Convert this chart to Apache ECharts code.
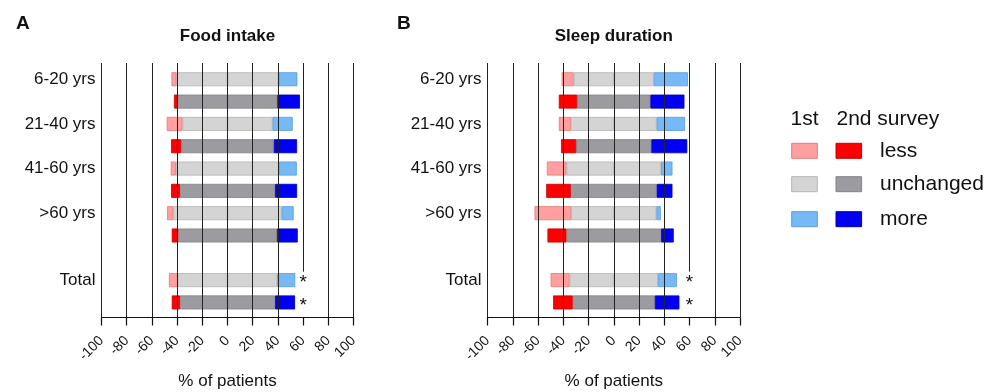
<!DOCTYPE html>
<html>
<head>
<meta charset="utf-8">
<script src="https://cdn.jsdelivr.net/npm/echarts@6/dist/echarts.min.js"></script>
<style>
html,body{margin:0;padding:0;background:#fff;}
#chart{width:997px;height:392px;}
</style>
</head>
<body>
<div id="chart"></div>
<script>
// ---- data (percent of patients) ----
const groups = ['6-20 yrs', '21-40 yrs', '41-60 yrs', '>60 yrs', 'Total'];

const foodLess1 = [4, 12.5, 4, 5, 7];
const foodUnch1 = [81, 71.5, 82, 86, 79];
const foodMore1 = [15, 16, 14, 9.5, 14.5];
const foodLess2 = [3, 8, 7, 5, 6.5];
const foodUnch2 = [79, 73.5, 75.5, 78.5, 75.5];
const foodMore2 = [18, 18.5, 17.5, 16.5, 16];
const foodSig = ['', '', '', '', '*'];

const sleepLess1 = [9.5, 9.5, 15.5, 29, 15];
const sleepUnch1 = [63.5, 68, 75, 67.5, 70];
const sleepMore1 = [27, 22.5, 9, 3.5, 15];
const sleepLess2 = [14.5, 12, 19.5, 15, 15.5];
const sleepUnch2 = [58, 59.5, 68, 75, 65];
const sleepMore2 = [27, 28.5, 12.5, 10, 19.5];
const sleepSig = ['', '', '', '', '*'];

const legendLabels = ['less', 'unchanged', 'more'];
const legendHeader = ['1st', '2nd survey'];

// ---- styles ----
const FONT = "'Liberation Sans', Arial, Helvetica, sans-serif";
const TXT = '#111';
const COL = {
  less:  {c1: '#FF9F9F', b1: '#E07C7C', c2: '#FF0000', b2: '#C40000'},
  unch:  {c1: '#D4D4D4', b1: '#B4B4B4', c2: '#9C9B9F', b2: '#838287'},
  more:  {c1: '#75B9F7', b1: '#5A9BD9', c2: '#0000F5', b2: '#0000B4'}
};

// slots: 1st / 2nd survey per group, gap before Total
const slots = [];
groups.forEach(g => { if (g === 'Total') slots.push('gap'); slots.push(g + '|1', g + '|2'); });

function slotData(a1, a2, fn, col) {
  return slots.map(s => {
    if (s === 'gap') return '-';
    const [g, k] = s.split('|');
    const i = groups.indexOf(g);
    const first = k === '1';
    return {
      value: fn(first ? a1[i] : a2[i]),
      itemStyle: {color: first ? col.c1 : col.c2, borderColor: first ? col.b1 : col.b2}
    };
  });
}

const panels = [
  {letter: 'A', title: 'Food intake', left: 101.5, width: 252,
   less1: foodLess1, unch1: foodUnch1, more1: foodMore1,
   less2: foodLess2, unch2: foodUnch2, more2: foodMore2, sig: foodSig},
  {letter: 'B', title: 'Sleep duration', left: 487.5, width: 252.5,
   less1: sleepLess1, unch1: sleepUnch1, more1: sleepMore1,
   less2: sleepLess2, unch2: sleepUnch2, more2: sleepMore2, sig: sleepSig}
];

const grid = [], xAxis = [], yAxis = [], series = [], title = [];
const letterX = [16, 397];

panels.forEach((p, pi) => {
  const gFrame = pi * 2, gBars = pi * 2 + 1;
  grid.push({left: p.left, width: p.width, top: 63, height: 254.5, outerBoundsMode: 'none', containLabel: false});
  grid.push({left: p.left, width: p.width, top: 68.1, height: 245.5, outerBoundsMode: 'none', containLabel: false});

  xAxis.push({
    gridIndex: gFrame, type: 'value', min: -100, max: 100, interval: 20, z: 3,
    axisLine: {show: true, onZero: false, lineStyle: {color: TXT, width: 1.2}},
    axisTick: {show: true, length: 8, lineStyle: {color: TXT, width: 1.2}},
    axisLabel: {rotate: 45, fontSize: 14, color: TXT, margin: 21, fontFamily: FONT},
    splitLine: {show: true, lineStyle: {color: '#222', width: 1}},
    name: '% of patients', nameLocation: 'middle', nameGap: 55,
    nameTextStyle: {fontSize: 17, color: TXT, fontFamily: FONT}
  });
  yAxis.push({gridIndex: gFrame, type: 'value', min: 0, max: 1, show: false});

  xAxis.push({gridIndex: gBars, type: 'value', min: -100, max: 100, show: false});
  yAxis.push({
    gridIndex: gBars, type: 'category', data: slots, inverse: true,
    axisLine: {show: false}, axisTick: {show: false}, splitLine: {show: false},
    axisLabel: {
      interval: 0, fontSize: 17, color: TXT, margin: 6, fontFamily: FONT,
      formatter: v => v.endsWith('|1') ? v.split('|')[0] : ''
    }
  });

  const common = {type: 'bar', xAxisIndex: gBars, yAxisIndex: gBars, stack: 'p' + pi,
    barWidth: 14, z: 2, itemStyle: {borderWidth: 0.8}, emphasis: {disabled: true}};
  series.push(Object.assign({name: 'unchanged'}, common, {data: slotData(p.unch1, p.unch2, v => -v / 2, COL.unch)}));
  series.push(Object.assign({name: 'unchanged'}, common, {data: slotData(p.unch1, p.unch2, v => v / 2, COL.unch)}));
  series.push(Object.assign({name: 'less'}, common, {data: slotData(p.less1, p.less2, v => -v, COL.less)}));
  series.push(Object.assign({name: 'more'}, common, {data: slotData(p.more1, p.more2, v => v, COL.more)}));

  // significance asterisks for Total (white box hides grid line behind)
  const starData = [];
  slots.forEach((s, si) => {
    if (s === 'gap') return;
    const g = s.split('|')[0];
    const star = p.sig[groups.indexOf(g)];
    if (star) starData.push({value: [60, si], star: star});
  });
  series.push({
    type: 'scatter', xAxisIndex: gBars, yAxisIndex: gBars, z: 6,
    symbolSize: 1, itemStyle: {color: 'rgba(255,255,255,0)'}, silent: true,
    data: starData,
    label: {
      show: true, position: 'inside', formatter: d => d.data.star, opacity: 1,
      fontSize: 19, color: TXT, fontFamily: FONT, offset: [0, 3],
      backgroundColor: '#fff', lineHeight: 17, padding: [6, 4, 0, 4],
      align: 'center', verticalAlign: 'middle'
    }
  });

  title.push({text: p.letter, left: letterX[pi], top: 14, padding: 0,
    textStyle: {fontSize: 19, fontWeight: 'bold', color: TXT, fontFamily: FONT}});
  title.push({text: p.title, left: p.left + p.width / 2, textAlign: 'center', top: 28, padding: 0,
    textStyle: {fontSize: 17, fontWeight: 'bold', color: TXT, fontFamily: FONT}});
});

// legend drawn as graphics
const legendGraphic = [];
const hdrStyle = {fontSize: 21, fill: TXT, fontFamily: FONT, verticalAlign: 'middle'};
legendGraphic.push({type: 'text', x: 790.5, y: 119, style: Object.assign({text: legendHeader[0]}, hdrStyle)});
legendGraphic.push({type: 'text', x: 836.5, y: 119, style: Object.assign({text: legendHeader[1]}, hdrStyle)});
const rowY = [150.8, 184.2, 219.2];
const rowCol = [COL.less, COL.unch, COL.more];
legendLabels.forEach((lab, i) => {
  const c = rowCol[i];
  legendGraphic.push({type: 'rect', shape: {x: 791.7, y: rowY[i] - 7.5, width: 25.6, height: 15},
    style: {fill: c.c1, stroke: c.b1, lineWidth: 1}});
  legendGraphic.push({type: 'rect', shape: {x: 836, y: rowY[i] - 7.5, width: 25.6, height: 15},
    style: {fill: c.c2, stroke: c.b2, lineWidth: 1}});
  legendGraphic.push({type: 'text', x: 880, y: rowY[i],
    style: {text: lab, fontSize: 21, fill: TXT, fontFamily: FONT, verticalAlign: 'middle'}});
});

const chart = echarts.init(document.getElementById('chart'), null, {renderer: 'canvas'});
chart.setOption({
  animation: false,
  backgroundColor: '#fff',
  textStyle: {fontFamily: FONT},
  title: title,
  grid: grid,
  xAxis: xAxis,
  yAxis: yAxis,
  series: series,
  graphic: legendGraphic
});
</script>
</body>
</html>
